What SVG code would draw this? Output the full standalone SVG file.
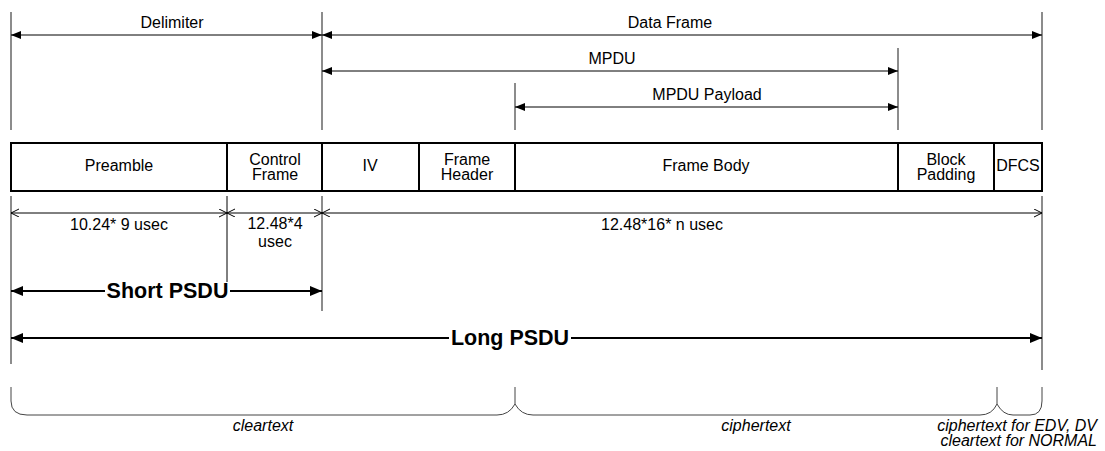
<svg xmlns="http://www.w3.org/2000/svg" width="1105" height="451" viewBox="0 0 1105 451">
<style>
text{font-family:"Liberation Sans",Arial,sans-serif;font-size:16px;fill:#000;text-anchor:middle}
.b{font-weight:bold;font-size:21.5px}
.i{font-style:italic}
.e{text-anchor:end}
.v{stroke:#666;stroke-width:1.5;fill:none}
.a{stroke:#000;stroke-width:1;fill:none}
.dim{stroke:#000;stroke-width:1;fill:none;marker-end:url(#open)}
.big{stroke:#000;stroke-width:2;fill:none;marker-end:url(#bigfill)}
.br{stroke:#444;stroke-width:1;fill:none}
.box{fill:#fff;stroke:#000;stroke-width:2}
.div{stroke:#000;stroke-width:2}
</style>
<defs>
<marker id="fill" markerUnits="userSpaceOnUse" markerWidth="12" markerHeight="10" refX="10" refY="4" orient="auto-start-reverse"><path d="M0,0 L10,4 L0,8 z" fill="#000"/></marker>
<marker id="bigfill" markerUnits="userSpaceOnUse" markerWidth="14" markerHeight="12" refX="12" refY="5" orient="auto"><path d="M0,0 L12,5 L0,10 z" fill="#000"/></marker>
<marker id="open" markerUnits="userSpaceOnUse" markerWidth="10" markerHeight="10" refX="8" refY="4" orient="auto"><path d="M0,0 L8,4 L0,8" fill="none" stroke="#000" stroke-width="1"/></marker>
</defs>

<g id="connectors">
  <line class="v" x1="11" y1="12" x2="11" y2="130"/>
  <line class="v" x1="322" y1="12" x2="322" y2="130"/>
  <line class="v" x1="1042" y1="12" x2="1042" y2="130"/>
  <line class="v" x1="898" y1="48" x2="898" y2="130"/>
  <line class="v" x1="515" y1="83" x2="515" y2="130"/>
  <line class="a" x1="11" y1="35" x2="322" y2="35" marker-start="url(#fill)" marker-end="url(#fill)"/>
  <line class="a" x1="322" y1="35" x2="1042" y2="35" marker-start="url(#fill)" marker-end="url(#fill)"/>
  <line class="a" x1="322" y1="71" x2="898" y2="71" marker-start="url(#fill)" marker-end="url(#fill)"/>
  <line class="a" x1="515" y1="107" x2="898" y2="107" marker-start="url(#fill)" marker-end="url(#fill)"/>
  <line class="v" x1="11" y1="196" x2="11" y2="364"/>
  <line class="a" x1="227" y1="196" x2="227" y2="282"/>
  <line class="v" x1="322" y1="196" x2="322" y2="311"/>
  <line class="v" x1="1042" y1="196" x2="1042" y2="370"/>
  <line class="dim" x1="120" y1="213" x2="11" y2="213"/>
  <line class="dim" x1="120" y1="213" x2="227" y2="213"/>
  <line class="dim" x1="275" y1="213" x2="227" y2="213"/>
  <line class="dim" x1="275" y1="213" x2="322" y2="213"/>
  <line class="dim" x1="680" y1="213" x2="322" y2="213"/>
  <line class="dim" x1="680" y1="213" x2="1042" y2="213"/>
  <line class="big" x1="105" y1="291" x2="11" y2="291"/>
  <line class="big" x1="230" y1="291" x2="322" y2="291"/>
  <line class="big" x1="449" y1="338" x2="11" y2="338"/>
  <line class="big" x1="571" y1="338" x2="1042" y2="338"/>
  <path class="br" d="M11,387 V401 Q11,415 27,415 H497 Q509,415 515,404 V387"/>
  <path class="br" d="M515,404 Q521,415 533,415 H980 Q992,415 997,404 V387"/>
  <path class="br" d="M997,404 Q1003,415 1013,415 H1030 Q1042,415 1042,401 V387"/>
</g>

<g id="frame">
  <rect class="box" x="11" y="143" width="1031" height="48"/>
  <line class="div" x1="227" y1="143" x2="227" y2="191"/>
  <line class="div" x1="322" y1="143" x2="322" y2="191"/>
  <line class="div" x1="419" y1="143" x2="419" y2="191"/>
  <line class="div" x1="515" y1="143" x2="515" y2="191"/>
  <line class="div" x1="898" y1="143" x2="898" y2="191"/>
  <line class="div" x1="994" y1="143" x2="994" y2="191"/>
</g>
<g id="preamble"><text x="119" y="171">Preamble</text></g>
<g id="control-frame"><text x="275" y="165">Control</text><text x="275" y="180">Frame</text></g>
<g id="iv"><text x="370" y="171">IV</text></g>
<g id="frame-header"><text x="467" y="165">Frame</text><text x="467" y="180">Header</text></g>
<g id="frame-body"><text x="706" y="171">Frame Body</text></g>
<g id="block-padding"><text x="946" y="165">Block</text><text x="946" y="180">Padding</text></g>
<g id="dfcs"><text x="1018" y="171">DFCS</text></g>

<g id="labels">
  <text x="172" y="28">Delimiter</text>
  <text x="670" y="28">Data Frame</text>
  <text x="612" y="64">MPDU</text>
  <text x="707" y="100">MPDU Payload</text>
  <text x="119" y="230">10.24* 9 usec</text>
  <text x="275" y="229">12.48*4</text>
  <text x="275" y="247">usec</text>
  <text x="662" y="230">12.48*16* n usec</text>
  <text class="b" x="167.5" y="298">Short PSDU</text>
  <text class="b" x="510" y="345">Long PSDU</text>
  <text class="i" x="263" y="431">cleartext</text>
  <text class="i" x="756" y="431">ciphertext</text>
  <text class="i e" x="1097" y="431">ciphertext for EDV, DV</text>
  <text class="i e" x="1097" y="446">cleartext for NORMAL</text>
</g>
</svg>
